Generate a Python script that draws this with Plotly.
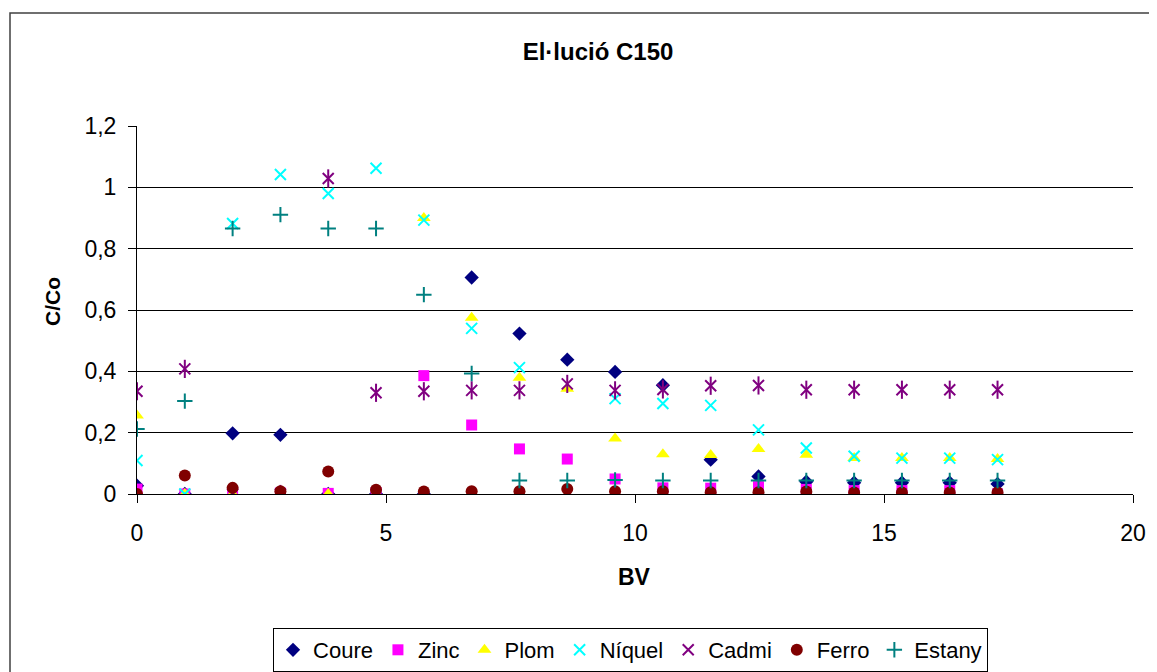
import plotly.graph_objects as go

bv = [0, 0.96, 1.92, 2.88, 3.84, 4.8, 5.76, 6.72, 7.68, 8.64, 9.6, 10.56, 11.52, 12.48, 13.44, 14.4, 15.36, 16.32, 17.28]

coure  = [0.027, 0.0, 0.198, 0.193, 0.0, 0.0, 0.0, 0.706, 0.523, 0.438, 0.398, 0.355, 0.112, 0.057, 0.040, 0.037, 0.037, 0.037, 0.033]
zinc   = [0.016, 0.0, 0.005, 0.003, 0.002, 0.005, 0.386, 0.225, 0.147, 0.114, 0.049, 0.020, 0.019, 0.024, 0.015, 0.011, 0.011, 0.011, 0.0]
plom   = [0.256, 0.0, 0.0, 0.0, 0.0, 0.0, 0.900, 0.575, 0.379, 0.343, 0.181, 0.130, 0.127, 0.147, 0.128, 0.117, 0.117, 0.117, 0.114]
niquel = [0.109, 0.0, 0.882, 1.042, 0.980, 1.062, 0.893, 0.540, 0.412, None, 0.311, 0.295, 0.289, 0.209, 0.150, 0.123, 0.117, 0.117, 0.112]
cadmi  = [0.335, 0.408, 0.0, 0.0, 1.029, 0.330, 0.335, 0.338, 0.338, 0.359, 0.338, 0.341, 0.353, 0.354, 0.340, 0.340, 0.340, 0.340, 0.340]
ferro  = [0.0, 0.060, 0.020, 0.009, 0.073, 0.014, 0.008, 0.009, 0.009, 0.016, 0.009, 0.009, 0.006, 0.006, 0.008, 0.005, 0.005, 0.005, 0.005]
estany = [0.212, 0.303, 0.866, 0.911, 0.866, 0.866, 0.650, 0.393, 0.044, 0.044, 0.046, 0.044, 0.044, 0.044, 0.044, 0.044, 0.044, 0.044, 0.044]

FONT = "Liberation Sans, Arial, sans-serif"

fig = go.Figure()

def add(name, y, symbol, color, size, lw=None, showlegend=True):
    marker = dict(symbol=symbol, color=color, size=size)
    if lw is not None:
        marker["line"] = dict(color=color, width=lw)
    else:
        marker["line"] = dict(width=0)
    fig.add_trace(go.Scatter(x=bv, y=y, mode="markers", name=name, marker=marker,
                             showlegend=showlegend, legendgroup=name))

add("Coure", coure, "diamond", "#000080", 11)
add("Zinc", zinc, "square", "#FF00FF", 11)
add("Plom", plom, "triangle-up", "#FFFF00", 12)
add("Níquel", niquel, "x-thin-open", "#00FFFF", 11, lw=2)
add("Cadmi", cadmi, "x-thin-open", "#800080", 11, lw=2)
add("Cadmi", cadmi, "line-ns-open", "#800080", 13, lw=2, showlegend=False)
add("Ferro", ferro, "circle", "#800000", 12)
add("Estany", estany, "cross-thin-open", "#008080", 11, lw=2)

# page has an 8px body margin: figure sized to fit the 1157x672 viewport
W, H = 1149, 664
L, T, PW, PH = 129, 118, 996, 368

fig.update_layout(
    width=W, height=H,
    margin=dict(l=L, r=W - L - PW, t=T, b=H - T - PH),
    paper_bgcolor="white", plot_bgcolor="white",
    separators=",.",
    font=dict(family=FONT, color="black", size=23),
    title=dict(text="<b>El·lució C150</b>", x=590 / W, xanchor="center", y=1 - 44 / H, yanchor="middle",
               font=dict(size=24, family=FONT)),
    showlegend=True,
    legend=dict(orientation="h", xref="paper", x=0.4955, xanchor="center",
                yref="container", y=1 - 620 / H, yanchor="top",
                bordercolor="black", borderwidth=1, font=dict(size=22, family=FONT),
                itemwidth=30, tracegroupgap=0),
    xaxis=dict(range=[0, 20], tickvals=[0, 5, 10, 15, 20], showgrid=False, zeroline=False,
               showline=True, linecolor="black", linewidth=1, ticks="outside", ticklen=8,
               tickcolor="black", ticklabelstandoff=10, automargin=False),
    yaxis=dict(range=[0, 1.2], tickvals=[0, 0.2, 0.4, 0.6, 0.8, 1, 1.2], showgrid=True,
               gridcolor="black", gridwidth=1, zeroline=False, showline=True, linecolor="black",
               linewidth=1, ticks="outside", ticklen=8, tickcolor="black", ticklabelstandoff=7,
               automargin=False),
    annotations=[
        dict(text="<b>C/Co</b>", x=(52 - 137) / 996, y=(494 - 302) / 368, xref="paper", yref="paper",
             xanchor="center", yanchor="middle",
             textangle=-90, showarrow=False, font=dict(size=21, family=FONT)),
        dict(text="<b>BV</b>", x=(634 - 137) / 996, y=(494 - 577) / 368, xref="paper", yref="paper",
             xanchor="center", yanchor="middle",
             showarrow=False, font=dict(size=23, family=FONT)),
    ],
    shapes=[
        dict(type="rect", xref="paper", yref="paper",
             x0=(10 - 137) / 996, x1=(1175 - 137) / 996,
             y0=(494 - 700) / 368, y1=(494 - 13) / 368,
             line=dict(color="#404040", width=1.5), fillcolor="rgba(0,0,0,0)", layer="below"),
    ],
)

fig.write_html("out.html")
